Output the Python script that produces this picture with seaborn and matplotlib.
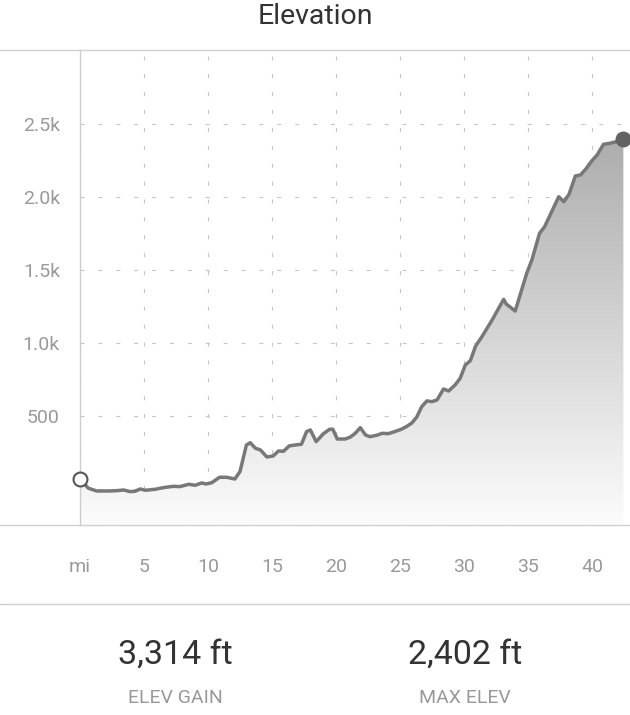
import numpy as np
import matplotlib
matplotlib.use("Agg")
import matplotlib.pyplot as plt
from matplotlib.lines import Line2D
from matplotlib.colors import LinearSegmentedColormap
import seaborn as sns

# ---- data ----
miles = [0, 0.65, 1.3, 2.3, 3.0, 3.4, 3.9, 4.3, 4.7, 5.1, 5.9, 6.5, 7.3, 7.8, 8.5, 9.0,
         9.5, 9.85, 10.3, 10.9, 11.45, 12.1, 12.5, 13.0, 13.3, 13.7, 14.1, 14.6, 15.1,
         15.5, 15.9, 16.35, 16.8, 17.3, 17.7, 18.0, 18.45, 19.0, 19.5, 19.75, 20.1, 20.7,
         21.1, 21.5, 21.9, 22.3, 22.65, 23.2, 23.6, 24.1, 24.6, 25.1, 25.5, 25.9, 26.3,
         26.7, 27.1, 27.5, 27.9, 28.4, 28.8, 29.3, 29.7, 30.1, 30.5, 30.9, 31.4, 32.2,
         33.1, 33.3, 34.0, 34.9, 35.3, 35.9, 36.3, 37.4, 37.8, 38.2, 38.7, 39.1, 39.5,
         40.0, 40.4, 40.9, 41.4, 41.9, 42.45]
elev = [70, 7, -12, -12, -9, -5, -16, -14, 2, -7, 0, 11, 20, 18, 34, 27, 43, 36, 45, 82,
        82, 70, 121, 303, 319, 281, 269, 221, 228, 262, 260, 297, 303, 308, 395, 406, 326,
        379, 411, 411, 344, 344, 356, 383, 422, 372, 360, 370, 383, 381, 395, 411, 429,
        452, 493, 566, 605, 600, 612, 687, 673, 714, 760, 851, 881, 980, 1045, 1160, 1301,
        1269, 1221, 1479, 1570, 1753, 1799, 2004, 1970, 2020, 2146, 2153, 2192, 2251, 2290,
        2363, 2370, 2381, 2402]
x_ticks = [0, 5, 10, 15, 20, 25, 30, 35, 40]
x_labels = ["mi", "5", "10", "15", "20", "25", "30", "35", "40"]
y_ticks = [0, 500, 1000, 1500, 2000, 2500]
y_labels = ["", "500", "1.0k", "1.5k", "2.0k", "2.5k"]
title = "Elevation"
stat_values = ["3,314 ft", "2,402 ft"]
stat_names = ["ELEV GAIN", "MAX ELEV"]

# ---- style ----
sns.set_style("white")
plt.rcParams["font.family"] = ["Roboto", "DejaVu Sans"]

W, H = 630, 715
fig = plt.figure(figsize=(W / 100, H / 100), dpi=100)
fig.patch.set_facecolor("white")

ax_l, ax_r, ax_t, ax_b = 80, 624, 50, 525
ax = fig.add_axes([ax_l / W, 1 - ax_b / H, (ax_r - ax_l) / W, (ax_b - ax_t) / H])
ax.set_facecolor("none")

YMIN, YMAX = -245, 3009
XMIN, XMAX = 0, 42.5

# gradient fill under the profile
poly = ax.fill_between(miles, elev, YMIN, color="none", linewidth=0)
cmap = LinearSegmentedColormap.from_list("g", ["#fcfcfc", "#adadad"])
grad = np.linspace(0, 1, 256).reshape(-1, 1)
im = ax.imshow(grad, extent=[miles[0], miles[-1], YMIN, max(elev)], aspect="auto",
               origin="lower", cmap=cmap, zorder=1, interpolation="bilinear")
im.set_clip_path(poly.get_paths()[0], transform=ax.transData)

# profile line
sns.lineplot(x=miles, y=elev, ax=ax, color="#787878", linewidth=2.5, zorder=3,
             solid_joinstyle="round", solid_capstyle="round")

# start / end markers
ax.plot([miles[0]], [elev[0]], marker="o", ms=10, mfc="white", mec="#555555",
        mew=1.5, zorder=5, clip_on=False, linestyle="none")
ax.plot([miles[-1]], [elev[-1]], marker="o", ms=11.5, mfc="#626262", mec="#626262",
        mew=0, zorder=5, clip_on=False, linestyle="none")

ax.set_xlim(XMIN, XMAX)
ax.set_ylim(YMIN, YMAX)

# grid
grid_kw = dict(color="#c6c6c6", linewidth=0.8, linestyle=(0, (3.6, 12.5)))
ax.set_xticks(x_ticks)
ax.set_yticks(y_ticks)
ax.grid(True, axis="both", **grid_kw)
ax.set_axisbelow(True)

ax.set_xticklabels(x_labels)
ax.set_yticklabels(y_labels)
ax.tick_params(axis="x", direction="in", length=4, width=0.8, color="#c6c6c6",
               pad=24, labelsize=14, labelcolor="#9a9a9a")
ax.tick_params(axis="y", length=0, pad=14.5, labelsize=14, labelcolor="#9a9a9a")

for s in ["top", "right", "bottom"]:
    ax.spines[s].set_visible(False)
ax.spines["left"].set_color("#cccccc")
ax.spines["left"].set_linewidth(1.0)

# full-width separator lines
for yy in [ax_t, ax_b, 604]:
    fig.add_artist(Line2D([0, 1], [1 - yy / H, 1 - yy / H], transform=fig.transFigure,
                          color="#d0d0d0", linewidth=1.0))

# title
fig.text(0.5, 1 - 16.5 / H, title, ha="center", va="center", fontsize=20.5, color="#333333")

# stats
for cx, val, name in zip([175, 465], stat_values, stat_names):
    fig.text(cx / W, 1 - 655 / H, val, ha="center", va="center", fontsize=24.5,
             color="#333333")
    fig.text(cx / W, 1 - 698 / H, name, ha="center", va="center", fontsize=14,
             color="#999999")

fig.savefig("out.png", dpi=100, facecolor="white")
